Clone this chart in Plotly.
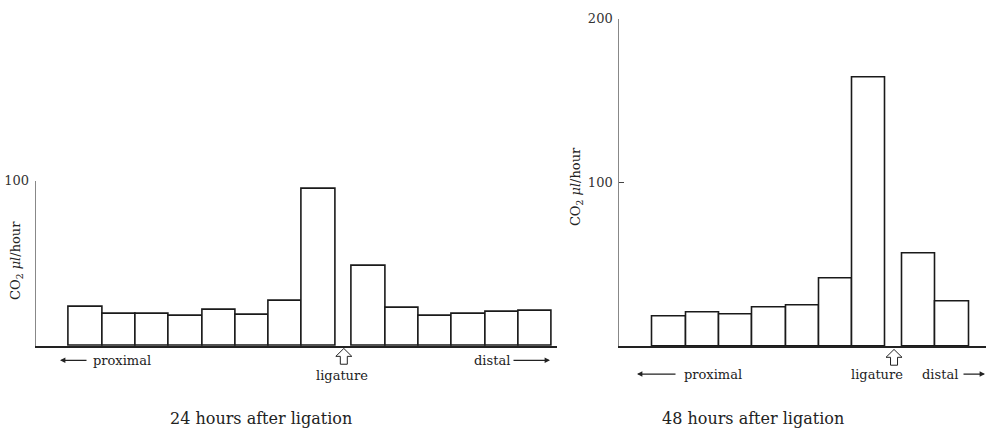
import plotly.graph_objects as go

# ---- data (CO2 ul/hour per nerve segment) ----
seg24_proximal = ["P8", "P7", "P6", "P5", "P4", "P3", "P2", "P1"]
val24_proximal = [23.5, 19.5, 19.5, 18.1, 21.5, 18.9, 27.4, 95.0]
seg24_distal = ["D1", "D2", "D3", "D4", "D5", "D6"]
val24_distal = [48.7, 23.0, 18.1, 19.5, 20.5, 20.9]

seg48_proximal = ["P7", "P6", "P5", "P4", "P3", "P2", "P1"]
val48_proximal = [18.4, 20.8, 19.6, 23.8, 25.0, 41.2, 164.2]
seg48_distal = ["D1", "D2"]
val48_distal = [56.8, 27.2]

ytick24 = [100]
ytick48 = [100, 200]

titles = ["24 hours after ligation", "48 hours after ligation"]
ylabel = "CO<sub>2</sub> <i>μl</i>/hour"

W, H = 989, 439
SERIF = "DejaVu Serif"
PX_PER_UNIT = 33.33  # horizontal pixels per bar width


def positions(n_prox, n_dist):
    xp = [i + 1.5 for i in range(n_prox)]
    xd = [n_prox + 2 + i for i in range(n_dist)]
    return xp, xd


fig = go.Figure()

panels = [
    dict(xa="x", ya="y", sp=seg24_proximal, vp=val24_proximal, sd=seg24_distal, vd=val24_distal),
    dict(xa="x2", ya="y2", sp=seg48_proximal, vp=val48_proximal, sd=seg48_distal, vd=val48_distal),
]

for p in panels:
    xp, xd = positions(len(p["sp"]), len(p["sd"]))
    fig.add_trace(go.Bar(
        x=xp + xd, y=p["vp"] + p["vd"], width=1.0,
        customdata=p["sp"] + p["sd"],
        hovertemplate="%{customdata}: %{y}<extra></extra>",
        marker=dict(color="white", line=dict(color="#1a1a1a", width=1.6)),
        xaxis=p["xa"], yaxis=p["ya"], showlegend=False,
    ))

axis_common = dict(showgrid=False, zeroline=False, fixedrange=True)

fig.update_layout(
    width=W, height=H, autosize=False,
    margin=dict(l=0, r=0, t=0, b=0),
    paper_bgcolor="white", plot_bgcolor="white",
    bargap=0,
    font=dict(family=SERIF, size=13, color="#222"),
    xaxis=dict(domain=[35.7 / W, 557 / W], range=[0, 15.65], showticklabels=False,
               ticks="", showline=True, linecolor="#222", linewidth=1.5, anchor="y", **axis_common),
    yaxis=dict(domain=[1 - 344.3 / H, 1 - 176.7 / H], range=[0, 100], tickvals=ytick24,
               ticks="inside", ticklen=5, tickcolor="#444", showline=True, linecolor="#888",
               linewidth=1, anchor="x", tickfont=dict(family=SERIF, size=13, color="#333"),
               ticklabelstandoff=3, **axis_common),
    xaxis2=dict(domain=[619.3 / W, 985.6 / W], range=[0, 11], showticklabels=False,
                ticks="", showline=True, linecolor="#222", linewidth=1.5, anchor="y2", **axis_common),
    yaxis2=dict(domain=[1 - 345 / H, 1 - 11.7 / H], range=[0, 200], tickvals=ytick48,
                ticks="inside", ticklen=5, tickcolor="#444", showline=True, linecolor="#888",
                linewidth=1, anchor="x2", tickfont=dict(family=SERIF, size=13, color="#333"),
                ticklabelstandoff=3, **axis_common),
)

ann = []


def text(x, y, s, size=13, xref="paper", angle=0, family=SERIF):
    ann.append(dict(x=x, y=y, xref=xref, yref="paper", text=s, showarrow=False,
                    font=dict(family=family, size=size, color="#222"), textangle=angle,
                    xanchor="center", yanchor="middle"))


def arrow(head_px, tail_px, y_px):
    ann.append(dict(x=head_px / W, y=1 - y_px / H, xref="paper", yref="paper", text="",
                    showarrow=True, ax=tail_px - head_px, ay=0, axref="pixel", ayref="pixel",
                    arrowhead=2, arrowsize=0.9, arrowwidth=1.2, arrowcolor="#222", standoff=0))


def hollow_up_arrow(cx, top_px, xref):
    # outline of a hollow upward arrow, offsets in pixels
    outline = [(0, 0), (8, 8), (3.5, 8), (3.5, 16), (-3.5, 16), (-3.5, 8), (-8, 8)]
    pts = [f"{cx + dx / PX_PER_UNIT:.4f},{1 - (top_px + dy) / H:.4f}" for dx, dy in outline]
    fig.add_shape(type="path", path="M " + " L ".join(pts) + " Z", xref=xref, yref="paper",
                  line=dict(color="#222", width=1), fillcolor="white", layer="above")


# titles
text(261 / W, 1 - 418 / H, titles[0], size=16)
text(753 / W, 1 - 418 / H, titles[1], size=16)
# y labels
text(17 / W, 1 - 258 / H, ylabel, size=13, angle=-90)
text(576 / W, 1 - 183 / H, ylabel, size=13, angle=-90)

# left panel labels
lig24 = len(seg24_proximal) + 1.25
lig48 = len(seg48_proximal) + 1.25
hollow_up_arrow(lig24, 347, "x")
text(lig24 - 0.05, 1 - 374 / H, "ligature", size=13, xref="x")
text(121.5 / W, 1 - 359 / H, "proximal", size=13)
arrow(60, 88, 359)
text(492 / W, 1 - 359 / H, "distal", size=13)
arrow(550, 512, 359)

# right panel labels
hollow_up_arrow(lig48, 348, "x2")
text(877 / W, 1 - 373 / H, "ligature", size=13)
text(713 / W, 1 - 373 / H, "proximal", size=13)
arrow(637, 677, 373)
text(940 / W, 1 - 373 / H, "distal", size=13)
arrow(985, 962, 373)

fig.update_layout(annotations=ann)

fig.write_html("out.html", config={"displayModeBar": False},
               post_script="document.body.style.margin='0';document.body.style.overflow='hidden';")
